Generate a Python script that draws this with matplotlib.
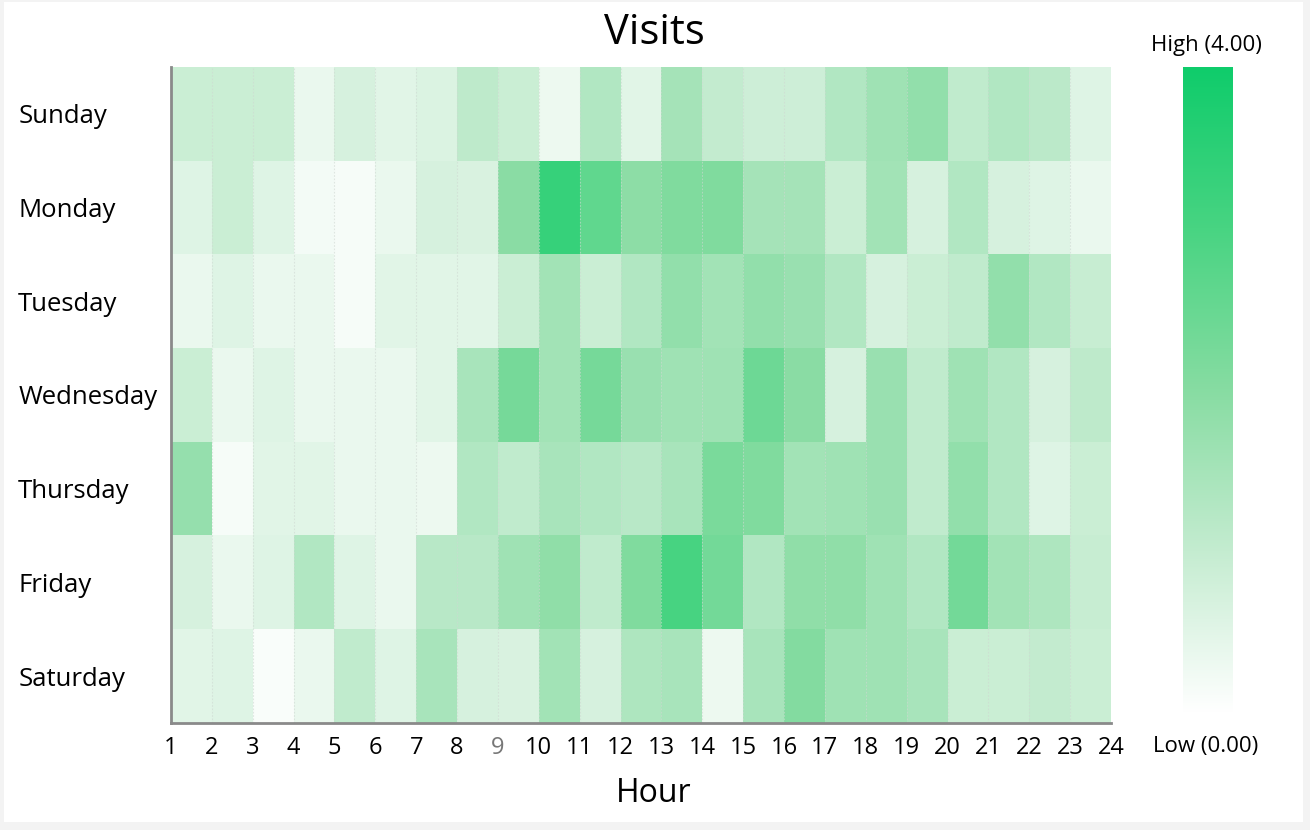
import numpy as np
import matplotlib
matplotlib.use("Agg")
import matplotlib.pyplot as plt
from matplotlib.colors import LinearSegmentedColormap
from matplotlib.patches import Rectangle

plt.rcParams['font.family'] = ['Open Sans', 'DejaVu Sans']

days = ["Sunday", "Monday", "Tuesday", "Wednesday", "Thursday", "Friday", "Saturday"]
hour_labels = [str(h) for h in range(1, 25)]

# visits per hour slot (23 slots between the 24 hour marks)
sunday = [0.9, 0.9, 0.9, 0.35, 0.7, 0.5, 0.6, 1.1, 0.9, 0.3, 1.3, 0.5,
          1.5, 1.0, 0.85, 0.85, 1.3, 1.6, 1.8, 1.05, 1.3, 1.15, 0.55]
monday = [0.55, 0.9, 0.55, 0.2, 0.15, 0.35, 0.7, 0.65, 1.95, 3.3, 2.6, 1.9,
          2.1, 2.1, 1.5, 1.5, 0.9, 1.55, 0.7, 1.3, 0.7, 0.55, 0.35]
tuesday = [0.35, 0.55, 0.35, 0.35, 0.15, 0.5, 0.5, 0.5, 0.9, 1.55, 0.9, 1.3,
           1.8, 1.55, 1.8, 1.7, 1.3, 0.7, 0.9, 1.05, 1.8, 1.3, 0.95]
wednesday = [0.9, 0.35, 0.55, 0.35, 0.35, 0.35, 0.5, 1.45, 2.25, 1.55, 2.25, 1.7,
             1.6, 1.6, 2.4, 1.95, 0.7, 1.7, 1.05, 1.6, 1.3, 0.7, 1.1]
thursday = [1.75, 0.15, 0.5, 0.5, 0.35, 0.35, 0.3, 1.3, 1.05, 1.45, 1.3, 1.2,
            1.45, 2.2, 2.1, 1.55, 1.6, 1.7, 1.05, 1.8, 1.3, 0.55, 0.9]
friday = [0.7, 0.35, 0.55, 1.3, 0.55, 0.35, 1.2, 1.2, 1.6, 1.85, 1.05, 2.1,
          3.0, 2.3, 1.3, 1.85, 1.85, 1.6, 1.3, 2.3, 1.55, 1.35, 0.95]
saturday = [0.5, 0.55, 0.1, 0.35, 1.05, 0.55, 1.45, 0.7, 0.65, 1.55, 0.7, 1.35,
            1.45, 0.3, 1.45, 2.05, 1.6, 1.6, 1.45, 0.9, 0.9, 1.0, 0.9]

vmin, vmax = 0.0, 4.0

data = np.array([sunday, monday, tuesday, wednesday, thursday, friday, saturday])
nrows, ncols = data.shape

# white -> green, a bit less blue in the middle than a straight RGB blend
cmap = LinearSegmentedColormap.from_list("visits", [
    (0.0, "#ffffff"),
    (0.25, "#c4ecd0"),
    (0.5, "#87dca2"),
    (0.75, "#48d482"),
    (1.0, "#0fcc6b"),
])

fig = plt.figure(figsize=(13.1, 8.3), dpi=100, facecolor="#f3f3f3")
# white panel inside the light grey frame
fig.patches.append(Rectangle((4 / 1310, 8 / 830), 1299 / 1310, 820 / 830,
                             transform=fig.transFigure, facecolor="white",
                             edgecolor="none", zorder=-1))

ax = fig.add_axes([171 / 1310, 107 / 830, 940 / 1310, 656 / 830])
ax.imshow(data, cmap=cmap, vmin=vmin, vmax=vmax, aspect="auto",
          extent=[0, ncols, nrows, 0], interpolation="nearest")

# faint dotted separators between hour slots
for x in range(1, ncols):
    ax.axvline(x, color="#cfd8d2", lw=0.8, ls=(0, (1.5, 1.5)), alpha=0.6)

ax.set_xlim(0, ncols)
ax.set_ylim(nrows, 0)
ax.set_xticks(np.linspace(0, ncols, len(hour_labels)))
ax.set_xticklabels(hour_labels, fontsize=17)
ax.get_xticklabels()[8].set_color("#777777")
ax.set_yticks(np.arange(nrows) + 0.5)
ax.set_yticklabels(days, fontsize=18.5, ha="left")
ax.tick_params(axis="x", length=0, pad=9)
ax.tick_params(axis="y", length=0, pad=110)

for side in ["top", "right"]:
    ax.spines[side].set_visible(False)
for side in ["left", "bottom"]:
    ax.spines[side].set_color("#8a8a8a")
    ax.spines[side].set_linewidth(2)

fig.text(654 / 1310, 1 - 33 / 830, "Visits", fontsize=30, ha="center", va="center")
fig.text(654 / 1310, 1 - 793 / 830, "Hour", fontsize=23, ha="center", va="center")

# colour scale on the right
cax = fig.add_axes([1183 / 1310, 117 / 830, 50 / 1310, 646 / 830])
grad = np.linspace(vmax, vmin, 256).reshape(-1, 1)
cax.imshow(grad, cmap=cmap, vmin=vmin, vmax=vmax, aspect="auto")
cax.axis("off")
fig.text(1206 / 1310, 1 - 46 / 830, f"High ({vmax:.2f})", fontsize=16, ha="center", va="center")
fig.text(1206 / 1310, 1 - 746 / 830, f"Low ({vmin:.2f})", fontsize=16, ha="center", va="center")

fig.savefig("out.png", dpi=100, facecolor=fig.get_facecolor())
